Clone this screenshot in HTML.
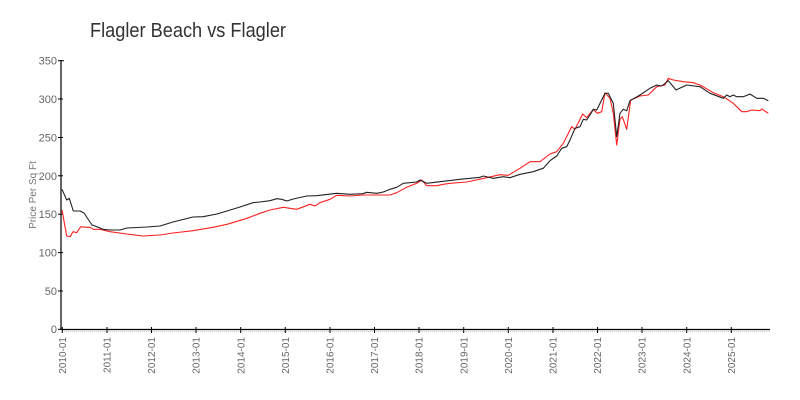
<!DOCTYPE html>
<html><head><meta charset="utf-8"><style>
html,body{margin:0;padding:0;background:#fff;}
svg{display:block;}
text{font-family:"Liberation Sans",sans-serif;}
</style></head><body>
<svg width="800" height="400" viewBox="0 0 800 400" xmlns="http://www.w3.org/2000/svg">
<rect width="800" height="400" fill="#fff"/>
<text x="90" y="37" font-size="20" fill="#333" textLength="196" lengthAdjust="spacingAndGlyphs">Flagler Beach vs Flagler</text>
<!-- axes -->
<line x1="61" y1="60" x2="61" y2="330" stroke="#000" stroke-width="1.2"/>
<line x1="61" y1="329.5" x2="770" y2="329.5" stroke="#000" stroke-width="1.2"/>
<line x1="62" y1="331.5" x2="770" y2="331.5" stroke="#ccc" stroke-width="1" stroke-dasharray="1,1"/>
<g stroke="#000" stroke-width="1">
<line x1="58" y1="60.7" x2="64" y2="60.7"/>
<line x1="58" y1="99" x2="63" y2="99"/>
<line x1="58" y1="137.5" x2="63" y2="137.5"/>
<line x1="58" y1="175.8" x2="63" y2="175.8"/>
<line x1="58" y1="214.2" x2="63" y2="214.2"/>
<line x1="58" y1="252.6" x2="63" y2="252.6"/>
<line x1="58" y1="291" x2="63" y2="291"/>
<line x1="58" y1="329.3" x2="63" y2="329.3"/>
</g>
<g font-size="11" fill="#666" text-anchor="end">
<text x="57" y="64.5">350</text>
<text x="57" y="103">300</text>
<text x="57" y="141.5">250</text>
<text x="57" y="180">200</text>
<text x="57" y="218">150</text>
<text x="57" y="256.5">100</text>
<text x="57" y="295">50</text>
<text x="57" y="333">0</text>
</g>
<text transform="translate(36,195) rotate(-90)" font-size="10" fill="#777" text-anchor="middle">Price Per Sq Ft</text>
<g stroke="#000" stroke-width="1">
<line x1="62.3" y1="327" x2="62.3" y2="333"/>
<line x1="107" y1="327" x2="107" y2="333"/>
<line x1="151.5" y1="327" x2="151.5" y2="333"/>
<line x1="196" y1="327" x2="196" y2="333"/>
<line x1="240.7" y1="327" x2="240.7" y2="333"/>
<line x1="285.3" y1="327" x2="285.3" y2="333"/>
<line x1="330" y1="327" x2="330" y2="333"/>
<line x1="374.5" y1="327" x2="374.5" y2="333"/>
<line x1="419" y1="327" x2="419" y2="333"/>
<line x1="463.7" y1="327" x2="463.7" y2="333"/>
<line x1="508.3" y1="327" x2="508.3" y2="333"/>
<line x1="553" y1="327" x2="553" y2="333"/>
<line x1="597.5" y1="327" x2="597.5" y2="333"/>
<line x1="642" y1="327" x2="642" y2="333"/>
<line x1="686.7" y1="327" x2="686.7" y2="333"/>
<line x1="731.3" y1="327" x2="731.3" y2="333"/>
</g>
<g font-size="10" fill="#666" text-anchor="end">
<text transform="translate(66,337) rotate(-90)">2010-01</text>
<text transform="translate(110.7,337) rotate(-90)">2011-01</text>
<text transform="translate(155.2,337) rotate(-90)">2012-01</text>
<text transform="translate(199.7,337) rotate(-90)">2013-01</text>
<text transform="translate(244.4,337) rotate(-90)">2014-01</text>
<text transform="translate(289,337) rotate(-90)">2015-01</text>
<text transform="translate(333.7,337) rotate(-90)">2016-01</text>
<text transform="translate(378.2,337) rotate(-90)">2017-01</text>
<text transform="translate(422.7,337) rotate(-90)">2018-01</text>
<text transform="translate(467.4,337) rotate(-90)">2019-01</text>
<text transform="translate(512,337) rotate(-90)">2020-01</text>
<text transform="translate(556.7,337) rotate(-90)">2021-01</text>
<text transform="translate(601.2,337) rotate(-90)">2022-01</text>
<text transform="translate(645.7,337) rotate(-90)">2023-01</text>
<text transform="translate(690.4,337) rotate(-90)">2024-01</text>
<text transform="translate(735,337) rotate(-90)">2025-01</text>
</g>
<polyline fill="none" stroke="#ff2020" stroke-width="1.1" stroke-linejoin="round" points="62,210 66.7,236 70,236.7 73,231.7 76.7,232.7 80.7,226.7 86.7,227.3 90,227.3 93.3,229.3 100,229.3 110,231.7 126.7,234 143,236 160,235 173,233 193,230.7 213,227.3 227,224.3 247,218.3 260,213.3 270,210 283.3,207.3 296.7,209.3 310,204.3 315,206 320,202.7 330,199.3 336.7,195.3 350,196 363.3,195 390,195 396.7,192.7 406.7,187.3 416.7,183.3 421.7,180 426.7,185.7 436.7,185.7 443.3,184.3 450,183.3 466.7,182 486.7,177.7 500,174.7 508.3,175.3 520,168.3 530,161.7 540,161.7 550,154 556.7,151.7 563.3,143.3 571.7,126.7 575,129.3 582.7,114 586.7,117.7 593.3,109.3 597.3,113.3 601.7,111.7 605,92.7 610,98.3 613.3,113.3 616.7,145 620,119.3 622.3,116.7 626.7,129.3 630.7,100 640,96 648.3,95 656.7,86.7 665,85 668.3,78.3 673.3,80 683.3,81.7 693.3,82.7 700,85 713.3,92.7 723.3,96.7 733.3,103.3 741.7,111.7 746.7,111.7 751.7,110 760,110.7 761.7,109 768.3,113.3"/>
<polyline fill="none" stroke="#222" stroke-width="1.1" stroke-linejoin="round" points="62,189.3 66.7,200 69.3,198.3 73.3,211 80,211 84,213 88,219 92,225 95,226 103,229.3 110,230 120,230 127,228 147,227 160,226 173,222 193,217 203,216.7 217,214 227,211 240,207 253,202.7 260,202 270,200.7 276.7,198.7 281.7,199.3 286.7,201 293.3,199 306.7,196 316.7,195.7 336.7,193.3 350,194.3 363,193.7 366.7,192.3 376.7,193.3 383.3,192 390,189.3 396.7,187.3 403.3,183.3 416.7,182 420,180 426.7,183.3 440,181.7 460,179.3 480,177.3 483.3,176 493.3,178.3 503.3,176.7 510,177.7 520,174.3 533.3,171.7 540,169.3 543.3,168.3 550,160.7 556.7,156 561.7,148.3 566.7,146.7 570,140 575,128.3 580,126.7 583.3,119.3 586.7,120 590,115 593.3,109.3 596.7,110 605,93.3 608.3,93.3 613.3,103.3 616.7,136.7 620,113.3 623.3,109.3 626.7,110.7 630,100.7 640,95 650,88.3 656.7,85 661.7,86 668.3,80.7 676,90 686.7,85 700,86.7 710,93.3 723.3,98.3 726.7,95 730,96.7 733.3,95 736.7,96.7 743.3,96.7 750,94 756.7,98.3 763.3,98.3 768.3,100.7"/>
</svg>
</body></html>
